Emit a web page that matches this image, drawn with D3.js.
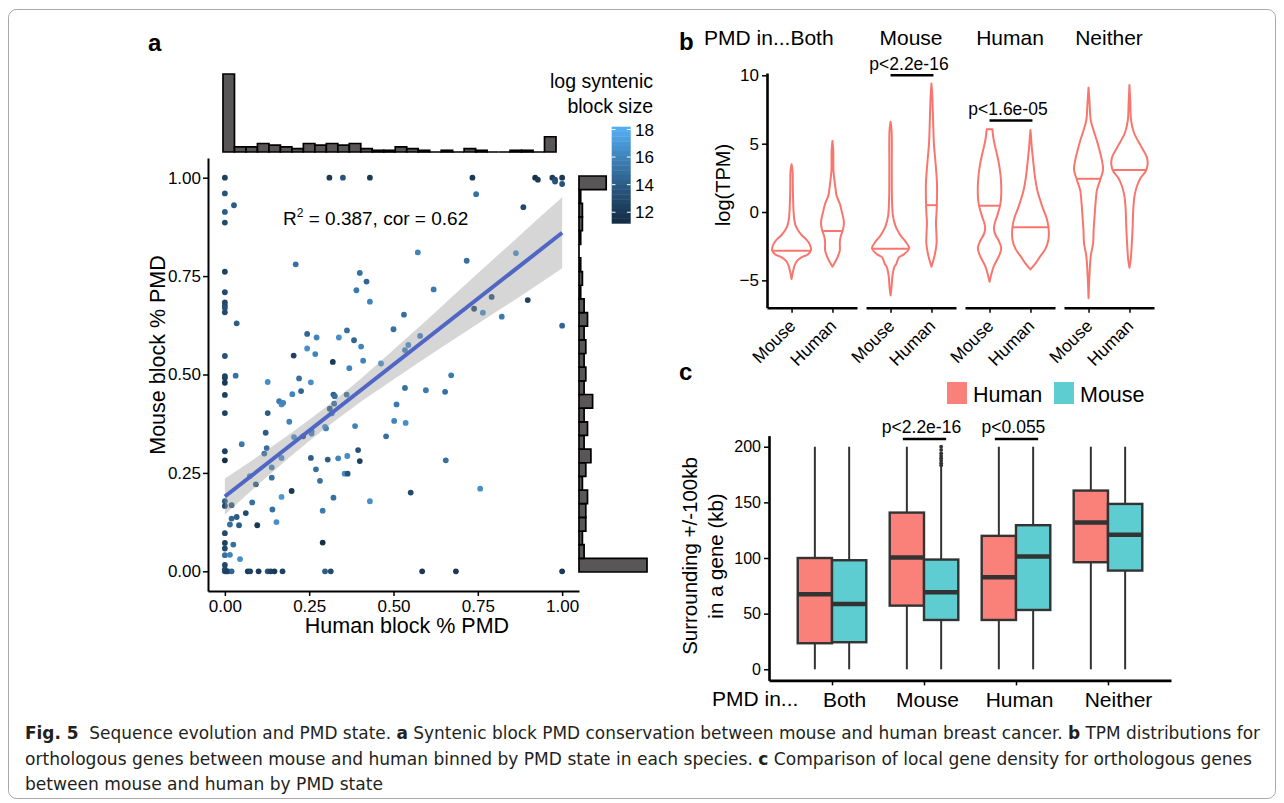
<!DOCTYPE html>
<html>
<head>
<meta charset="utf-8">
<title>Fig. 5</title>
<script src="https://cdn.jsdelivr.net/npm/d3@7/dist/d3.min.js"></script>
<style>
  body { margin: 0; background: #fff; }
  svg { display: block; font-family: "Liberation Sans", Arial, Helvetica, sans-serif; }
</style>
</head>
<body>
<script>
// ---------- panel a : syntenic blocks [human % PMD, mouse % PMD, log block size]
var blocks = [
  [0.00,1.00,12.5],[0.31,1.00,12],[0.35,1.00,13.5],[0.43,1.00,12],[0.00,0.96,13.5],[0.027,0.93,14],
  [0.00,0.913,14],[0.00,0.886,13],[0.21,0.78,15],[0.00,0.761,12.5],[0.40,0.758,15],[0.42,0.736,14.5],
  [0.39,0.714,15.5],[0.00,0.709,13],[0.00,0.683,13],[0.00,0.675,13],[0.00,0.669,13.5],[0.00,0.658,13],
  [0.43,0.685,16],[0.035,0.63,14],[0.50,0.615,15],[0.244,0.603,14.5],[0.272,0.594,16],[0.338,0.594,16.5],
  [0.362,0.612,15],[0.383,0.587,14.5],[0.404,0.571,16],[0.244,0.566,16.5],[0.268,0.552,16],[0.41,0.535,16],
  [0.00,0.547,13.5],[0.204,0.548,12.5],[0.32,0.532,12],[0.369,0.516,16],[0.463,0.528,16.5],
  [0.734,1.00,12],[0.92,1.00,11.5],[0.928,0.995,12],[0.971,1.00,12],[0.979,0.995,13],[0.979,0.99,13.5],
  [1.00,1.00,12],[1.00,0.984,13.5],[0.745,0.958,15],[0.885,0.925,13],[0.572,0.81,16],[0.717,0.789,15],
  [0.863,0.808,16.5],[0.619,0.716,15.5],[0.791,0.697,13.5],[0.739,0.667,13],[0.765,0.657,16.5],
  [0.898,0.689,12.5],[0.531,0.652,15],[0.821,0.647,15.5],[1.00,0.624,14.5],[0.579,0.598,16],
  [0.544,0.575,16.5],[0.534,0.562,16],
  [0.00,0.496,12.5],[0.00,0.491,12.5],[0.00,0.479,12],[0.032,0.497,15],[0.127,0.481,16.5],[0.22,0.49,15],
  [0.226,0.458,14.5],[0.255,0.48,16.5],[0.00,0.448,12.5],[0.20,0.45,16],[0.322,0.449,14],[0.326,0.445,15],
  [0.361,0.449,15],[0.161,0.432,15.5],[0.168,0.424,16.5],[0.173,0.428,16],[0.127,0.402,14],[0.00,0.402,12.5],
  [0.311,0.413,14],[0.324,0.426,15],[0.317,0.401,16],[0.191,0.38,16],[0.121,0.352,14],[0.05,0.323,15.5],
  [0.205,0.341,16.5],[0.232,0.343,13],[0.257,0.356,15],[0.257,0.35,16],[0.297,0.367,16.5],[0.30,0.363,16],
  [0.386,0.369,16],[0.124,0.313,15],[0.117,0.299,15],[0.139,0.264,16],[0.139,0.238,15],[0.168,0.288,16.5],
  [0.00,0.305,12.5],[0.00,0.282,11.5],[0.074,0.242,16.5],[0.092,0.221,14],[0.255,0.288,14],[0.27,0.259,15],
  [0.305,0.284,14],[0.282,0.23,15],[0.336,0.287,16],[0.363,0.293,16.5],[0.355,0.248,16.5],[0.364,0.248,13.5],
  [0.395,0.308,13.5],[0.40,0.28,12.5],[0.198,0.204,12],[0.168,0.189,17],[0.081,0.175,15],[0.00,0.178,14],
  [0.00,0.166,13],[0.02,0.168,14],[0.322,0.187,15],[0.43,0.178,16.5],[0.141,0.157,15],[0.29,0.154,15.5],
  [0.062,0.148,13],[0.035,0.138,14],[0.02,0.134,14.5],[0.015,0.119,15],[0.042,0.117,14],[0.096,0.117,12],
  [0.00,0.097,13],[0.153,0.125,16.5],[0.29,0.073,11.5],[0.00,0.072,12.5],[0.00,0.058,13],[0.025,0.068,15],
  [0.00,0.041,15],[0.015,0.042,16],[0.045,0.031,16.5],[0.00,0.016,13],[0.00,0.005,13],
  [0.00,0.00,13],[0.01,0.00,14],[0.02,0.00,14.5],[0.005,0.00,12.5],[0.068,0.00,12],[0.075,0.00,12.5],
  [0.10,0.00,12],[0.127,0.00,13.5],[0.136,0.00,12.5],[0.147,0.00,12],[0.171,0.00,12.5],[0.297,0.00,14],
  [0.314,0.00,13],[0.478,0.343,15],
  [0.671,0.498,15.5],[0.534,0.466,15],[0.596,0.46,15.5],[0.653,0.456,15],[0.509,0.424,15.5],[0.502,0.382,16],
  [0.536,0.377,16.5],[0.655,0.282,15],[0.551,0.20,13],[0.757,0.21,16.5],[0.585,0.00,12],[0.685,0.00,12],
  [1.00,0.00,12]
];
// marginal histograms (29 bins over 0..1)
var topHistCounts = [46,3,3,5,4,3,2,5,4,5,4,5,2,1,1,3,2,1,0,1,0,2,1,0,0,1,1,0,9];
var rightHistCounts = [40,3,2,4,4,5,2,4,7,3,5,3,8,3,4,3,4,3,5,3,1,2,1,0,1,2,2,1,16]; // from 0 upwards
var fitLine = [[0, 0.19], [1, 0.86]];
var bandX = [0, 0.125, 0.25, 0.375, 0.5, 0.625, 0.75, 0.875, 1];
var bandLower = [0.144, 0.240, 0.331, 0.413, 0.487, 0.559, 0.629, 0.698, 0.770];
var bandUpper = [0.236, 0.308, 0.385, 0.469, 0.563, 0.659, 0.757, 0.854, 0.950];
var pmdTicks = [0, 0.25, 0.5, 0.75, 1];
var sizeTicks = [12, 14, 16, 18];

// ---------- panel b : log(TPM) violins, [value, relative half width]
var pmdStates = ["Both", "Mouse", "Human", "Neither"];
var tpmSpecies = ["Mouse", "Human"];
var bothMouse = [[3.5,0],[3.0,0.05],[1.6,0.065],[0,0.1],[-0.6,0.14],[-1.0,0.2],[-1.3,0.3],[-1.7,0.5],[-2.0,0.72],[-2.4,0.9],[-2.8,0.95],[-3.1,0.8],[-3.3,0.5],[-3.55,0.28],[-3.9,0.15],[-4.3,0.08],[-4.9,0]];
var bothHuman = [[5.2,0],[4.5,0.04],[3.0,0.05],[2.3,0.1],[1.7,0.15],[1.2,0.2],[0.6,0.36],[0,0.46],[-0.6,0.55],[-1.0,0.55],[-1.4,0.49],[-1.8,0.4],[-2.2,0.36],[-2.8,0.36],[-3.3,0.25],[-3.7,0.12],[-4.0,0]];
var mouseMouse = [[6.6,0],[6.0,0.05],[3.0,0.06],[1.0,0.07],[-0.3,0.12],[-1.05,0.25],[-1.5,0.4],[-1.8,0.53],[-2.2,0.75],[-2.65,0.91],[-3.1,0.65],[-3.3,0.42],[-3.5,0.35],[-3.8,0.28],[-4.0,0.19],[-4.7,0.09],[-5.5,0.05],[-6.1,0]];
var mouseHuman = [[9.4,0],[8.5,0.04],[6.7,0.08],[5.0,0.12],[3.6,0.2],[2.1,0.27],[1.0,0.27],[0,0.25],[-0.8,0.22],[-1.5,0.24],[-2.3,0.25],[-3.0,0.18],[-3.5,0.1],[-4.0,0]];
var humanMouse = [[6.05,0.14],[5.5,0.18],[5.0,0.24],[4.3,0.35],[3.6,0.45],[2.8,0.53],[2.0,0.57],[1.2,0.57],[0.5,0.52],[-0.3,0.37],[-0.9,0.24],[-1.3,0.22],[-1.7,0.3],[-2.1,0.45],[-2.6,0.57],[-3.0,0.52],[-3.4,0.4],[-4.0,0.2],[-4.6,0.08],[-5.1,0]];
var humanHuman = [[6.0,0],[5.5,0.03],[5.0,0.05],[4.2,0.1],[3.5,0.15],[2.8,0.2],[2.1,0.27],[1.5,0.35],[0.9,0.47],[0.3,0.6],[-0.4,0.78],[-1.1,0.88],[-2.0,0.88],[-2.7,0.73],[-3.3,0.45],[-3.8,0.23],[-4.2,0]];
var neitherMouse = [[9.1,0],[8.0,0.05],[6.7,0.11],[6.0,0.24],[5.0,0.45],[3.8,0.65],[3.1,0.71],[2.4,0.58],[1.6,0.41],[0.8,0.35],[0,0.31],[-1.3,0.25],[-2.3,0.22],[-3.2,0.11],[-4.5,0.05],[-6.3,0]];
var neitherHuman = [[9.3,0],[8.0,0.04],[6.7,0.08],[5.8,0.22],[4.8,0.57],[4.0,0.85],[3.5,0.89],[3.0,0.8],[2.5,0.55],[1.9,0.37],[1.2,0.25],[0.5,0.2],[0,0.18],[-1.3,0.15],[-2.7,0.1],[-3.5,0.06],[-4.07,0]];
var tpmMedians = [[-2.83, -1.39], [-2.68, 0.5], [0.46, -1.12], [2.43, 3.07]];
var tpmTicks = [-5, 0, 5, 10];
var tpmTests = [["Mouse", "p<2.2e-16", 10.0], ["Human", "p<1.6e-05", 6.7]];

// ---------- panel c : surrounding gene density boxplots [min, q1, median, q3, max]
var boxSpecies = ["Human", "Mouse"];
var humanBox = [[0,23.4,67.4,100,200],[0,57.2,100.4,140.8,200],[0,44.3,82.7,119.9,200],[0,96.2,131.8,160.6,200]];
var mouseBox = [[0,24.3,58.7,98,200],[0,44.3,69.2,98.6,182],[0,53.3,101.3,129.5,200],[0,88.7,120.8,148.6,200]];
var mouseOutliers = [183.3, 185.1, 187.5, 189.6, 191.7, 194.1, 197.1, 200]; // PMD in Mouse
var densityTicks = [0, 50, 100, 150, 200];
var densityTests = [["Mouse", "p<2.2e-16", 207], ["Human", "p<0.055", 207]];

var captionLines = [
  [["Fig. 5", 1], ["  Sequence evolution and PMD state. ", 0], ["a", 1], [" Syntenic block PMD conservation between mouse and human breast cancer. ", 0], ["b", 1], [" TPM distributions for", 0]],
  [["orthologous genes between mouse and human binned by PMD state in each species. ", 0], ["c", 1], [" Comparison of local gene density for orthologous genes", 0]],
  [["between mouse and human by PMD state", 0]]
];

var salmon = "#F8766D";
var boxFill = {Human: "#F98179", Mouse: "#5DCDD1"};

var svg = d3.select("body").append("svg").attr("width", 1284).attr("height", 803);
svg.append("rect").attr("width", 1284).attr("height", 803).attr("fill", "#fff");
svg.append("rect").attr("x", 8.5).attr("y", 9.5).attr("width", 1267).attr("height", 789)
  .attr("rx", 8).attr("fill", "none").attr("stroke", "#a8a8a8");

function styleAxis(g, size) {
  g.attr("font-family", null).attr("font-size", size);
  g.select(".domain").attr("stroke", "#000").attr("stroke-width", 2);
  g.selectAll(".tick line").attr("stroke", "#000").attr("stroke-width", 1.5);
  g.selectAll(".tick text").attr("fill", "#000");
}

// ================= panel a =================
var xA = d3.scaleLinear().domain([-0.05, 1.05]).range([208, 579]);
var yA = d3.scaleLinear().domain([-0.05, 1.05]).range([591, 158]);
var colorA = d3.scaleLinear().domain([11.2, 18.2]).range(["#132B43", "#56B1F7"]).interpolate(d3.interpolateLab);

svg.append("text").attr("x", 148).attr("y", 51).attr("font-size", 24).attr("font-weight", "bold").text("a");

svg.append("g").selectAll("circle").data(blocks).join("circle")
  .attr("cx", function(d) { return xA(d[0]); })
  .attr("cy", function(d) { return yA(d[1]); })
  .attr("r", 2.9)
  .attr("fill", function(d) { return colorA(d[2]); });

var band = bandX.map(function(x, i) { return [x, bandLower[i], bandUpper[i]]; });
svg.append("path").datum(band)
  .attr("fill", "#999").attr("fill-opacity", 0.4)
  .attr("d", d3.area().curve(d3.curveMonotoneX)
    .x(function(d) { return xA(d[0]); })
    .y0(function(d) { return yA(d[1]); })
    .y1(function(d) { return yA(d[2]); }));
svg.append("path").datum(fitLine)
  .attr("fill", "none").attr("stroke", "#4F66C4").attr("stroke-width", 4)
  .attr("d", d3.line().x(function(d) { return xA(d[0]); }).y(function(d) { return yA(d[1]); }));

svg.append("g").attr("transform", "translate(0," + 591 + ")")
  .call(d3.axisBottom(xA).tickValues(pmdTicks).tickFormat(d3.format(".2f")).tickSize(5).tickSizeOuter(0).tickPadding(4))
  .call(styleAxis, 17);
svg.append("g").attr("transform", "translate(" + 208 + ",0)")
  .call(d3.axisLeft(yA).tickValues(pmdTicks).tickFormat(d3.format(".2f")).tickSize(5).tickSizeOuter(0).tickPadding(2))
  .call(styleAxis, 17);

svg.append("text").attr("x", 407).attr("y", 633).attr("text-anchor", "middle").attr("font-size", 21.5)
  .text("Human block % PMD");
svg.append("text").attr("transform", "translate(165,355) rotate(-90)").attr("text-anchor", "middle")
  .attr("font-size", 21.5).text("Mouse block % PMD");

var r2 = svg.append("text").attr("x", 283).attr("y", 225).attr("font-size", 19);
r2.append("tspan").text("R");
r2.append("tspan").attr("font-size", 12).attr("dy", -8).text("2");
r2.append("tspan").attr("dy", 8).text(" = 0.387, cor = 0.62");

// top marginal histogram
var xTop = d3.scaleLinear().domain([0, topHistCounts.length]).range([223, 556]);
var hTop = d3.scaleLinear().domain([0, 46]).range([152, 74]);
svg.append("g").selectAll("path").data(topHistCounts).join("path")
  .attr("fill", "#585656").attr("stroke", "#000").attr("stroke-width", 1.7)
  .attr("d", function(c, i) {
    return "M" + xTop(i) + "," + hTop(0) + "V" + hTop(c) + "H" + xTop(i + 1) + "V" + hTop(0) + "Z";
  });

// right marginal histogram
var yRight = d3.scaleLinear().domain([0, rightHistCounts.length]).range([572, 176]);
var wRight = d3.scaleLinear().domain([0, 40]).range([579, 647]);
svg.append("g").selectAll("path").data(rightHistCounts).join("path")
  .attr("fill", "#585656").attr("stroke", "#000").attr("stroke-width", 1.7)
  .attr("d", function(c, i) {
    return "M" + wRight(0) + "," + yRight(i) + "H" + wRight(c) + "V" + yRight(i + 1) + "H" + wRight(0) + "Z";
  });

// colour bar legend
svg.append("text").attr("x", 653).attr("y", 88).attr("text-anchor", "end").attr("font-size", 19.5).text("log syntenic");
svg.append("text").attr("x", 653).attr("y", 113).attr("text-anchor", "end").attr("font-size", 19.5).text("block size");
var yBar = d3.scaleLinear().domain(colorA.domain()).range([223.3, 126.7]);
var barSteps = d3.range(20).map(function(i) { return 11.2 + i * 7 / 20; });
svg.append("g").selectAll("rect").data(barSteps).join("rect")
  .attr("x", 611.7).attr("width", 19)
  .attr("y", function(d) { return yBar(d + 0.35); })
  .attr("height", function(d) { return yBar(d) - yBar(d + 0.35) + 0.4; })
  .attr("fill", function(d) { return colorA(d + 0.175); });
var barTicks = svg.append("g").selectAll("g").data(sizeTicks).join("g")
  .attr("transform", function(d) { return "translate(0," + yBar(d) + ")"; });
barTicks.append("line").attr("x1", 611.7).attr("x2", 615.5).attr("stroke", "#fff").attr("stroke-width", 1);
barTicks.append("line").attr("x1", 626.9).attr("x2", 630.7).attr("stroke", "#fff").attr("stroke-width", 1);
barTicks.append("text").attr("x", 635).attr("dy", "0.36em").attr("font-size", 17).text(function(d) { return d; });

// ================= panel b =================
var tpmShapes = [[bothMouse, bothHuman], [mouseMouse, mouseHuman], [humanMouse, humanHuman], [neitherMouse, neitherHuman]];
var panelB = d3.scaleBand().domain(pmdStates).range([767, 1154]).paddingInner(0.0909);
var inB = d3.scalePoint().domain(tpmSpecies).range([0, panelB.bandwidth()]).padding(0.6);
var yB = d3.scaleLinear().domain([-7.0, 10.17]).range([307.7, 73]);
var halfB = inB.step() / 2;

svg.append("text").attr("x", 679).attr("y", 50).attr("font-size", 24).attr("font-weight", "bold").text("b");

pmdStates.forEach(function(state, si) {
  var px = panelB(state);
  var g = svg.append("g").attr("transform", "translate(" + px + ",0)");
  var strip = g.append("text").attr("x", panelB.bandwidth() / 2).attr("y", 45)
    .attr("text-anchor", "middle").attr("font-size", 21).text(state);
  if (si === 0) {
    var w = strip.node().getComputedTextLength();
    g.append("text").attr("x", panelB.bandwidth() / 2 - w / 2).attr("y", 45)
      .attr("text-anchor", "end").attr("font-size", 21).text("PMD in...");
  }
  tpmSpecies.forEach(function(sp, k) {
    var shape = tpmShapes[si][k];
    var cx = inB(sp);
    g.append("path").datum(shape)
      .attr("fill", "#fff").attr("stroke", salmon).attr("stroke-width", 2).attr("stroke-linejoin", "round")
      .attr("d", d3.area().curve(d3.curveCatmullRom.alpha(0.5))
        .y(function(d) { return yB(d[0]); })
        .x0(function(d) { return cx - d[1] * halfB; })
        .x1(function(d) { return cx + d[1] * halfB; }));
    var med = tpmMedians[si][k];
    var widthAt = d3.scaleLinear().domain(shape.map(function(d) { return d[0]; })).range(shape.map(function(d) { return d[1]; }));
    var hw = widthAt(med) * halfB;
    g.append("line").attr("x1", cx - hw).attr("x2", cx + hw).attr("y1", yB(med)).attr("y2", yB(med))
      .attr("stroke", salmon).attr("stroke-width", 2);
    g.append("text").attr("transform", "translate(" + (cx + 5) + ",327) rotate(-45)")
      .attr("text-anchor", "end").attr("font-size", 17.5).text(sp);
  });
  g.append("g").attr("transform", "translate(0,307.7)")
    .call(d3.axisBottom(inB).tickSize(5).tickSizeOuter(0).tickFormat(""))
    .call(styleAxis, 16)
    .call(function(a) { a.select(".domain").attr("stroke-width", 2.6); });
});
svg.append("g").attr("transform", "translate(767,0)")
  .call(d3.axisLeft(yB).tickValues(tpmTicks).tickSize(5).tickSizeOuter(0).tickPadding(3))
  .call(styleAxis, 17)
  .call(function(a) { a.select(".domain").attr("stroke-width", 2.6); });
svg.append("text").attr("transform", "translate(730,185) rotate(-90)").attr("text-anchor", "middle")
  .attr("font-size", 20).text("log(TPM)");

tpmTests.forEach(function(t) {
  var px = panelB(t[0]);
  var y = yB(t[2]);
  svg.append("line").attr("x1", px + inB("Mouse")).attr("x2", px + inB("Human") + 2)
    .attr("y1", y).attr("y2", y).attr("stroke", "#000").attr("stroke-width", 2.5);
  svg.append("text").attr("x", px + panelB.bandwidth() / 2 - 2).attr("y", y - 5)
    .attr("text-anchor", "middle").attr("font-size", 17.5).text(t[1]);
});

// ================= panel c =================
var xC = d3.scalePoint().domain(pmdStates).range([769, 1171]).padding(0.685);
var yC = d3.scaleLinear().domain([-10, 210]).range([680.4, 435.6]);
var dodge = d3.scaleBand().domain(boxSpecies).range([-34.3, 34.3]);
var boxStats = {Human: humanBox, Mouse: mouseBox};
var labelShift = {Both: 12, Mouse: 3, Human: 3, Neither: 10};

svg.append("text").attr("x", 679).attr("y", 380).attr("font-size", 24).attr("font-weight", "bold").text("c");

// legend
var leg = svg.append("g");
boxSpecies.forEach(function(sp, i) {
  var lx = 947 + i * 107;
  leg.append("rect").attr("x", lx).attr("y", 382).attr("width", 20).attr("height", 22).attr("fill", boxFill[sp]);
  leg.append("text").attr("x", lx + 26).attr("y", 402).attr("font-size", 21.5).text(sp);
});

pmdStates.forEach(function(state, si) {
  boxSpecies.forEach(function(sp) {
    var s = boxStats[sp][si];
    var cx = xC(state) + dodge(sp) + dodge.bandwidth() / 2;
    var bw = dodge.bandwidth();
    var g = svg.append("g");
    g.append("line").attr("x1", cx).attr("x2", cx).attr("y1", yC(s[0])).attr("y2", yC(s[1]))
      .attr("stroke", "#333").attr("stroke-width", 2);
    g.append("line").attr("x1", cx).attr("x2", cx).attr("y1", yC(s[3])).attr("y2", yC(s[4]))
      .attr("stroke", "#333").attr("stroke-width", 2);
    g.append("rect").attr("x", cx - bw / 2).attr("width", bw)
      .attr("y", yC(s[3])).attr("height", yC(s[1]) - yC(s[3]))
      .attr("fill", boxFill[sp]).attr("stroke", "#333").attr("stroke-width", 2.4);
    g.append("line").attr("x1", cx - bw / 2).attr("x2", cx + bw / 2).attr("y1", yC(s[2])).attr("y2", yC(s[2]))
      .attr("stroke", "#333").attr("stroke-width", 4.5);
    if (state === "Mouse" && sp === "Mouse") {
      g.selectAll("circle").data(mouseOutliers).join("circle")
        .attr("cx", cx).attr("cy", function(d) { return yC(d); }).attr("r", 1.9).attr("fill", "#333");
    }
  });
});

svg.append("g").attr("transform", "translate(0,680.4)")
  .call(d3.axisBottom(xC).tickSize(5).tickSizeOuter(0).tickPadding(7))
  .call(styleAxis, 21)
  .call(function(a) {
    a.select(".domain").attr("stroke-width", 2.6);
    a.selectAll(".tick text").attr("dx", function(d) { return labelShift[d]; });
  });
svg.append("text").attr("x", 712).attr("y", 706).attr("font-size", 21).text("PMD in...");
svg.append("g").attr("transform", "translate(769,0)")
  .call(d3.axisLeft(yC).tickValues(densityTicks).tickSize(5).tickSizeOuter(0).tickPadding(3))
  .call(styleAxis, 16)
  .call(function(a) { a.select(".domain").attr("stroke-width", 2.6); });
var yt = svg.append("text").attr("transform", "translate(697,556) rotate(-90)").attr("text-anchor", "middle").attr("font-size", 20.5);
yt.append("tspan").attr("x", 0).text("Surrounding +/-100kb");
yt.append("tspan").attr("x", 0).attr("dy", 26).text("in a gene (kb)");

densityTests.forEach(function(t) {
  var y = yC(t[2]);
  var x1 = xC(t[0]) + dodge("Human") + dodge.bandwidth() / 2 - 4;
  var x2 = xC(t[0]) + dodge("Mouse") + dodge.bandwidth() / 2 + 5;
  svg.append("line").attr("x1", x1).attr("x2", x2).attr("y1", y).attr("y2", y).attr("stroke", "#000").attr("stroke-width", 2.5);
  svg.append("text").attr("x", (x1 + x2) / 2 - 3).attr("y", y - 6).attr("text-anchor", "middle").attr("font-size", 17.5).text(t[1]);
});

// ================= caption =================
var capWidths = [1235, 1227, 358];
captionLines.forEach(function(line, i) {
  var t = svg.append("text").attr("x", 25).attr("y", 739 + i * 25.5)
    .attr("font-family", "'Liberation Sans Narrow', 'DejaVu Sans Condensed', sans-serif")
    .attr("font-size", 17.5).attr("fill", "#231F20")
    .attr("textLength", capWidths[i]).attr("lengthAdjust", "spacingAndGlyphs")
    .style("white-space", "pre");
  line.forEach(function(seg) {
    t.append("tspan").attr("font-weight", seg[1] ? "bold" : null).text(seg[0]);
  });
});
</script>
</body>
</html>
